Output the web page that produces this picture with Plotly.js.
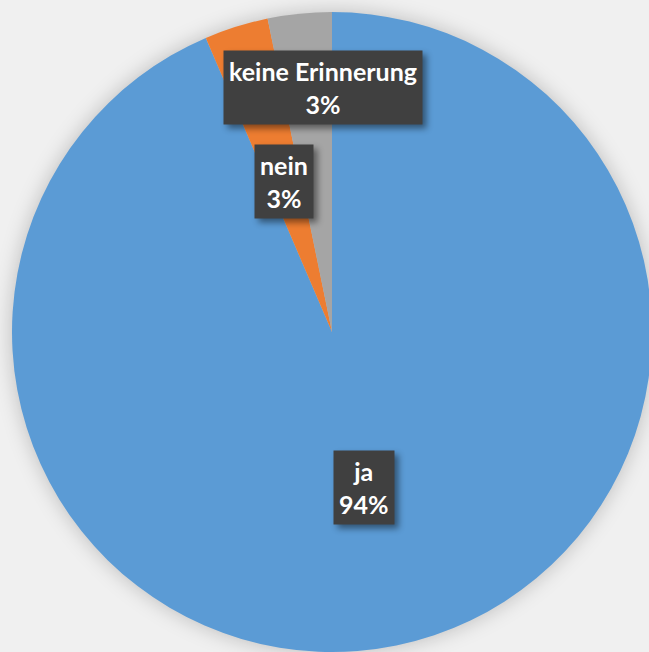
<!DOCTYPE html>
<html>
<head>
<meta charset="utf-8">
<script src="https://cdn.plot.ly/plotly-3.0.1.min.js"></script>
<style>
  html, body { margin: 0; padding: 0; overflow: hidden; background: #f0f0f0; }
  #plot { width: 700px; height: 700px; }
  .pielayer { filter: drop-shadow(0px 0px 10px rgba(0,0,0,0.22)); }
  .annotation .bg { filter: drop-shadow(4px 4px 3px rgba(0,0,0,0.45)); }
</style>
</head>
<body>
<div id="plot"></div>
<script>
// answers (counts)
let labels = ['ja', 'nein', 'keine Erinnerung']
let values = [29, 1, 1]
let colors = ['#5B9BD5', '#ED7D31', '#A5A5A5']

// where the label boxes sit (pixels from top-left)
let boxPos = [[364, 487], [284, 181], [323, 87]]

let W = 700, H = 700
let total = values.reduce((a, b) => a + b, 0)

let trace = {
    type: 'pie',
    labels: labels,
    values: values,
    marker: { colors: colors, line: { width: 0 } },
    sort: false,
    direction: 'clockwise',
    rotation: 0,
    textinfo: 'none',
    hoverinfo: 'label+percent',
    domain: { x: [12 / W, 652 / W], y: [1 - 652 / H, 1 - 12 / H] }
}

let annotations = []
for (let i = 0; i < labels.length; i++) {
    let pct = Math.round(values[i] / total * 100) + '%'
    annotations.push({
        xref: 'paper', yref: 'paper',
        x: boxPos[i][0] / W, y: 1 - boxPos[i][1] / H,
        xanchor: 'center', yanchor: 'middle',
        text: labels[i] + '<br>' + pct,
        showarrow: false,
        borderpad: 5,
        bgcolor: '#404040',
        font: { family: 'Lato, "Open Sans", sans-serif', size: 25, color: '#ffffff', weight: 'bold' }
    })
}

let layout = {
    width: W,
    height: H,
    margin: { l: 0, r: 0, t: 0, b: 0 },
    paper_bgcolor: '#f0f0f0',
    showlegend: false,
    annotations: annotations
}

Plotly.newPlot('plot', [trace], layout, { displayModeBar: false })
</script>
</body>
</html>
